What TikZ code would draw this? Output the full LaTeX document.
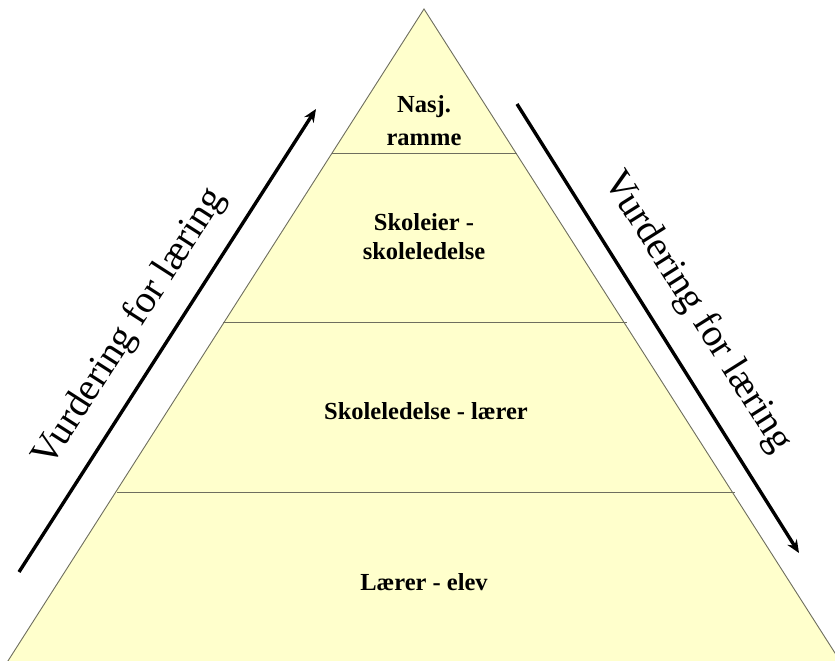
\documentclass[tikz,border=0pt]{standalone}
\usepackage{fontspec}
\setmainfont{Liberation Serif}
\usetikzlibrary{arrows.meta}
\definecolor{pyrfill}{HTML}{FFFFCC}
\definecolor{pyredge}{HTML}{6E6E5E}
\tikzset{
  tier/.style={font=\bfseries\fontsize{24.5}{29}\selectfont, align=center, inner sep=0pt},
  sidetext/.style={font=\fontsize{39}{42}\selectfont, inner sep=0pt},
  flowarrow/.style={line width=3.4pt, -{Stealth[length=13pt,width=11pt]}},
  edge/.style={draw=pyredge, line width=0.9pt}
}
\begin{document}
\begin{tikzpicture}[x=1pt,y=-1pt]
\useasboundingbox (0,0) rectangle (835,661);
\fill[white] (0,0) rectangle (835,661);
% pyramid
\coordinate (apex) at (424,9);
\coordinate (bl) at (6,664);
\coordinate (br) at (842,664);
\fill[pyrfill] (apex) -- (br) -- (bl) -- cycle;
\draw[edge] (bl) -- (apex) -- (br);
% tier dividers
\coordinate (d1l) at (332,153); \coordinate (d1r) at (517,153);
\coordinate (d2l) at (223,322); \coordinate (d2r) at (627,322);
\coordinate (d3l) at (117,492); \coordinate (d3r) at (735,492);
\draw[edge] (d1l) -- (d1r);
\draw[edge] (d2l) -- (d2r);
\draw[edge] (d3l) -- (d3r);
% tier labels
\node[tier] (t1) at (424,121) {Nasj.\\[4pt]ramme};
\node[tier] (t2) at (424,237) {Skoleier -\\skoleledelse};
\node[tier] (t3) at (426,411) {Skoleledelse - lærer};
\node[tier] (t4) at (424,582) {Lærer - elev};
% arrows
\coordinate (la1) at (19,572); \coordinate (la2) at (316,109);
\coordinate (ra1) at (517,104); \coordinate (ra2) at (799,553);
\draw[flowarrow] (la1) -- (la2);
\draw[flowarrow] (ra1) -- (ra2);
% side texts
\node[sidetext, rotate=57.3] (lt) at (130,328) {Vurdering for læring};
\node[sidetext, rotate=-57.8] (rt) at (697,312) {Vurdering for læring};
\end{tikzpicture}
\end{document}
